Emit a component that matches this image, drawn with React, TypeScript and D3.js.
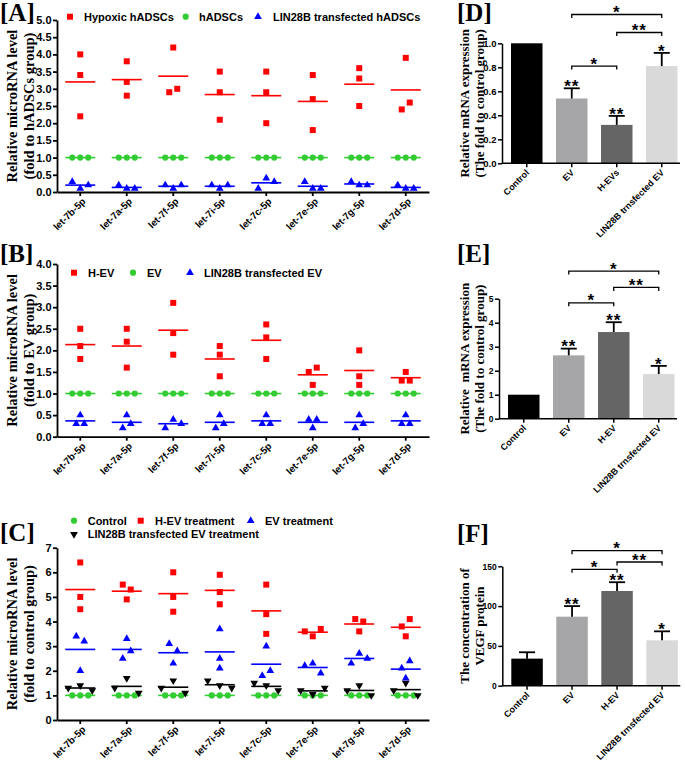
import React, { useRef, useEffect } from "react";
import * as d3 from "d3";

const mirnas = ["let-7b-5p", "let-7a-5p", "let-7f-5p", "let-7i-5p", "let-7c-5p", "let-7e-5p", "let-7g-5p", "let-7d-5p"];

// [A] three replicates per microRNA
const hypoxicA = [[4.0, 3.4, 2.2], [3.8, 3.2, 2.8], [4.2, 2.9, 3.0], [3.5, 2.9, 2.1], [3.5, 2.9, 2.0], [3.4, 2.7, 1.8], [3.6, 3.3, 2.5], [3.9, 2.4, 2.6]];
const hadscsA = [[1, 1, 1], [1, 1, 1], [1, 1, 1], [1, 1, 1], [1, 1, 1], [1, 1, 1], [1, 1, 1], [1, 1, 1]];
const lin28bA = [[0.3, 0.1, 0.2], [0.2, 0.1, 0.1], [0.2, 0.1, 0.2], [0.2, 0.1, 0.2], [0.1, 0.4, 0.3], [0.3, 0.1, 0.1], [0.3, 0.2, 0.2], [0.2, 0.1, 0.1]];

// [B]
const hevB = [[2.5, 2.1, 1.8], [2.5, 2.2, 1.6], [3.1, 2.4, 1.9], [2.1, 1.9, 1.4], [2.6, 2.3, 1.8], [1.5, 1.6, 1.2], [2.0, 1.4, 1.2], [1.5, 1.3, 1.3]];
const evB = [[1, 1, 1], [1, 1, 1], [1, 1, 1], [1, 1, 1], [1, 1, 1], [1, 1, 1], [1, 1, 1], [1, 1, 1]];
const lin28bB = [[0.5, 0.3, 0.3], [0.5, 0.2, 0.3], [0.2, 0.4, 0.3], [0.5, 0.2, 0.3], [0.5, 0.3, 0.3], [0.4, 0.4, 0.2], [0.5, 0.2, 0.3], [0.5, 0.3, 0.3]];

// [C]
const controlC = [[1, 1, 1], [1, 1, 1], [1, 1, 1], [1, 1, 1], [1, 1, 1], [1, 1, 1], [1, 1, 1], [1, 1, 1]];
const hevC = [[6.4, 5.0, 4.5], [5.5, 5.3, 4.9], [6.0, 5.0, 4.4], [5.9, 5.2, 4.7], [5.5, 4.3, 3.5], [3.6, 3.4, 3.7], [4.1, 3.6, 4.0], [3.8, 3.4, 4.1]];
const evC = [[3.4, 3.2, 2.0], [3.3, 2.5, 2.8], [3.1, 2.8, 2.3], [3.7, 2.5, 2.1], [3.0, 1.8, 2.0], [2.2, 2.3, 1.9], [2.3, 2.7, 2.5], [2.1, 2.4, 1.7]];
const lin28bC = [[1.3, 1.4, 1.2], [1.3, 1.7, 1.1], [1.3, 1.6, 1.1], [1.6, 1.4, 1.3], [1.5, 1.4, 1.2], [1.2, 1.05, 1.3], [1.2, 1.4, 1.0], [1.2, 1.5, 1.0]];

const ticksA = [0, 0.5, 1, 1.5, 2, 2.5, 3, 3.5, 4, 4.5, 5];
const ticksB = [0, 0.5, 1, 1.5, 2, 2.5, 3, 3.5, 4];
const ticksC = [0, 1, 2, 3, 4, 5, 6, 7];

// bar panels
const groupsD = ["Control", "EV", "H-EVs", "LIN28B trnsfected EV"];
const groupsEF = ["Control", "EV", "H-EV", "LIN28B trnsfected EV"];
const meanD = [1.0, 0.54, 0.32, 0.81];
const sdD = [0, 0.085, 0.075, 0.11];
const meanE = [1.0, 2.64, 3.61, 1.86];
const sdE = [0, 0.28, 0.41, 0.34];
const meanF = [34, 86.7, 119, 57];
const sdF = [8, 13.3, 11, 11.3];
const barStars = ["", "**", "**", "*"];
const compD = [{ a: 1, b: 3, level: 1.24, mark: "*" }, { a: 2, b: 3, level: 1.09, mark: "**" }, { a: 1, b: 2, level: 0.81, mark: "*" }];
const compE = [{ a: 1, b: 3, level: 6.15, mark: "*" }, { a: 2, b: 3, level: 5.47, mark: "**" }, { a: 1, b: 2, level: 4.83, mark: "*" }];
const compF = [{ a: 1, b: 3, level: 169.6, mark: "*" }, { a: 2, b: 3, level: 155.4, mark: "**" }, { a: 1, b: 2, level: 146.2, mark: "*" }];
const ticksD = [0, 0.2, 0.4, 0.6, 0.8, 1.0];
const ticksE = [0, 1, 2, 3, 4, 5];
const ticksF = [0, 50, 100, 150];

const RED = "#ff0000";
const GREEN = "#33cc33";
const BLUE = "#0000ff";
const BLACK = "#000000";
const barColors = ["#000000", "#a6a6a8", "#656565", "#d9d9d9"];

const SERIF = '"Liberation Serif", "Times New Roman", Times, serif';
const SANS = '"Liberation Sans", Arial, Helvetica, sans-serif';

function symbolPath(shape) {
  if (shape === "square") return d3.symbol().type(d3.symbolSquare).size(36)();
  if (shape === "circle") return d3.symbol().type(d3.symbolCircle).size(30)();
  return d3.symbol().type(d3.symbolTriangle).size(26)();
}

// spread overlapping replicates sideways, like a column scatter
function spread(py, s, pair) {
  const n = py.length;
  const parent = py.map((_, i) => i);
  const find = (i) => (parent[i] === i ? i : (parent[i] = find(parent[i])));
  for (let i = 0; i < n; i++)
    for (let j = i + 1; j < n; j++)
      if (Math.abs(py[i] - py[j]) < 7.5) parent[find(j)] = find(i);
  const off = new Array(n).fill(0);
  const groups = d3.group(d3.range(n), (i) => find(i));
  groups.forEach((mem) => {
    if (mem.length === 2) {
      off[mem[0]] = -pair;
      off[mem[1]] = pair;
    } else if (mem.length > 2) {
      mem.forEach((m, k) => (off[m] = (k - (mem.length - 1) / 2) * s));
    }
  });
  return off;
}

function styleAxis(a, size) {
  a.selectAll("path,line").attr("stroke", "#000").attr("stroke-width", 1.8);
  a.selectAll("text")
    .attr("font-family", SANS)
    .attr("font-weight", "bold")
    .attr("font-size", size)
    .attr("fill", "#000");
}

function drawScatter(root, c) {
  const g = root.append("g");
  const x = d3.scaleBand().domain(mirnas).range([57, 429]);
  const y = d3.scaleLinear().domain([0, c.max]).range([c.bottom, c.top]);

  const ya = g.append("g").attr("transform", "translate(57,0)")
    .call(d3.axisLeft(y).tickValues(c.ticks).tickFormat(d3.format(c.fmt)).tickSize(4).tickSizeOuter(0).tickPadding(1.5));
  styleAxis(ya, 11);
  const xa = g.append("g").attr("transform", `translate(0,${c.bottom})`)
    .call(d3.axisBottom(x).tickSize(4).tickSizeOuter(0).tickFormat(() => ""));
  styleAxis(xa, 10);

  mirnas.forEach((m) => {
    g.append("text")
      .attr("transform", `translate(${x(m) + x.bandwidth() / 2 + 6},${c.bottom + 10}) rotate(-45)`)
      .attr("text-anchor", "end")
      .attr("font-family", SANS)
      .attr("font-weight", "bold")
      .attr("font-size", 9.8)
      .text(m);
  });

  const ym = (c.top + c.bottom) / 2;
  c.ylab.forEach((t, i) => {
    g.append("text")
      .attr("transform", `translate(${[17, 34][i]},${ym}) rotate(-90)`)
      .attr("text-anchor", "middle")
      .attr("font-family", SERIF)
      .attr("font-weight", "bold")
      .attr("font-size", 14.5)
      .text(t);
  });

  g.append("text")
    .attr("x", 0)
    .attr("y", c.labelBase)
    .attr("font-family", SERIF)
    .attr("font-weight", "bold")
    .attr("font-size", 25)
    .text(c.label);

  c.series.forEach((s) => {
    s.data.forEach((vals, i) => {
      const cx = x(mirnas[i]) + x.bandwidth() / 2;
      const py = vals.map((v) => y(v));
      const off = spread(py, s.s, s.pair);
      vals.forEach((v, k) => {
        g.append("path")
          .attr("d", symbolPath(s.shape))
          .attr("transform", `translate(${cx + off[k]},${py[k]})${s.shape === "down" ? " rotate(180)" : ""}`)
          .attr("fill", s.color);
      });
      const m = d3.mean(vals);
      g.append("line")
        .attr("x1", cx - 15).attr("x2", cx + 15)
        .attr("y1", y(m)).attr("y2", y(m))
        .attr("stroke", s.color)
        .attr("stroke-width", 1.6);
    });
  });

  c.legend.forEach((l) => {
    g.append("path")
      .attr("d", symbolPath(l.shape))
      .attr("transform", `translate(${l.mx},${l.y})${l.shape === "down" ? " rotate(180)" : ""}`)
      .attr("fill", l.color);
    g.append("text")
      .attr("x", l.tx)
      .attr("y", l.y)
      .attr("dy", "0.36em")
      .attr("font-family", SANS)
      .attr("font-weight", "bold")
      .attr("font-size", 11)
      .text(l.text);
  });
}

function drawBars(root, c) {
  const g = root.append("g");
  const step = 45;
  const x = d3.scaleBand().domain(c.groups).range([c.x0, c.x0 + step * 4.1]).paddingInner(0.3).paddingOuter(0.2);
  const y = d3.scaleLinear().domain([0, c.max]).range([c.bottom, c.top]);
  const cx = (i) => x(c.groups[i]) + x.bandwidth() / 2;

  g.selectAll("rect")
    .data(c.groups)
    .join("rect")
    .attr("x", (d) => x(d))
    .attr("y", (d, i) => y(c.mean[i]))
    .attr("width", x.bandwidth())
    .attr("height", (d, i) => c.bottom - y(c.mean[i]))
    .attr("fill", (d, i) => barColors[i]);

  c.groups.forEach((d, i) => {
    const top = y(c.mean[i] + c.sd[i]);
    if (c.sd[i] > 0) {
      g.append("line").attr("x1", cx(i)).attr("x2", cx(i)).attr("y1", y(c.mean[i])).attr("y2", top)
        .attr("stroke", "#000").attr("stroke-width", 1.8);
      g.append("line").attr("x1", cx(i) - 8).attr("x2", cx(i) + 8).attr("y1", top).attr("y2", top)
        .attr("stroke", "#000").attr("stroke-width", 1.8);
    }
    if (c.stars[i]) {
      g.append("text")
        .attr("x", cx(i)).attr("y", top - 6 + 9.7)
        .attr("text-anchor", "middle")
        .attr("font-family", SANS).attr("font-weight", "bold").attr("font-size", 17)
        .attr("letter-spacing", 1)
        .text(c.stars[i]);
    }
  });

  c.comps.forEach((p) => {
    const yb = y(p.level);
    const x1 = cx(p.a);
    const x2 = cx(p.b);
    g.append("path")
      .attr("d", `M${x1},${yb + 3.5}V${yb}H${x2}V${yb + 3.5}`)
      .attr("fill", "none").attr("stroke", "#000").attr("stroke-width", 1.3);
    g.append("text")
      .attr("x", (x1 + x2) / 2).attr("y", yb - 6 + 9.7)
      .attr("text-anchor", "middle")
      .attr("font-family", SANS).attr("font-weight", "bold").attr("font-size", 17)
      .attr("letter-spacing", 1)
      .text(p.mark);
  });

  const ya = g.append("g").attr("transform", `translate(${c.x0},0)`)
    .call(d3.axisLeft(y).tickValues(c.ticks).tickFormat(d3.format(c.fmt)).tickSize(4).tickSizeOuter(0).tickPadding(1.5));
  styleAxis(ya, c.tickFont);
  ya.selectAll("path,line").attr("stroke-width", 1.5);

  g.append("line").attr("x1", c.x0).attr("x2", c.x0 + 178).attr("y1", c.bottom).attr("y2", c.bottom)
    .attr("stroke", "#000").attr("stroke-width", 1.5);
  c.groups.forEach((d, i) => {
    g.append("line").attr("x1", cx(i)).attr("x2", cx(i)).attr("y1", c.bottom).attr("y2", c.bottom + 4)
      .attr("stroke", "#000").attr("stroke-width", 1.5);
    g.append("text")
      .attr("transform", `translate(${cx(i) + 3},${c.bottom + 10}) rotate(-45)`)
      .attr("text-anchor", "end")
      .attr("font-family", SANS).attr("font-weight", "bold").attr("font-size", 9)
      .text(d);
  });

  const ym = (c.top + c.bottom) / 2;
  c.ylab.forEach((t, i) => {
    g.append("text")
      .attr("transform", `translate(${[469, 484][i]},${ym}) rotate(-90)`)
      .attr("text-anchor", "middle")
      .attr("font-family", SERIF).attr("font-weight", "bold").attr("font-size", 13)
      .style("white-space", "pre")
      .text(t);
  });

  g.append("text")
    .attr("x", 457).attr("y", c.labelBase)
    .attr("font-family", SERIF).attr("font-weight", "bold").attr("font-size", 25)
    .text(c.label);
}

const App = () => {
  const ref = useRef(null);

  useEffect(() => {
    const svg = d3.select(ref.current);
    svg.selectAll("*").remove();
    svg.append("rect").attr("width", 685).attr("height", 761).attr("fill", "#fff");

    drawScatter(svg, {
      label: "[A]", labelBase: 21, top: 20, bottom: 192, max: 5, ticks: ticksA, fmt: ".1f",
      ylab: ["Relative microRNA level", "(fold to hADSCs group)"],
      series: [
        { data: hypoxicA, color: RED, shape: "square", s: 8, pair: 4 },
        { data: hadscsA, color: GREEN, shape: "circle", s: 8, pair: 4 },
        { data: lin28bA, color: BLUE, shape: "tri", s: 8, pair: 4 },
      ],
      legend: [
        { shape: "square", color: RED, text: "Hypoxic hADSCs", mx: 70, tx: 84, y: 16.7 },
        { shape: "circle", color: GREEN, text: "hADSCs", mx: 185.7, tx: 199, y: 16.7 },
        { shape: "tri", color: BLUE, text: "LIN28B transfected hADSCs", mx: 258, tx: 273, y: 16.7 },
      ],
    });

    drawScatter(svg, {
      label: "[B]", labelBase: 262, top: 264, bottom: 436.7, max: 4, ticks: ticksB, fmt: ".1f",
      ylab: ["Relative microRNA level", "(fold to EV group)"],
      series: [
        { data: hevB, color: RED, shape: "square", s: 8, pair: 4 },
        { data: evB, color: GREEN, shape: "circle", s: 8, pair: 4 },
        { data: lin28bB, color: BLUE, shape: "tri", s: 8, pair: 4 },
      ],
      legend: [
        { shape: "square", color: RED, text: "H-EV", mx: 74, tx: 88, y: 272.7 },
        { shape: "circle", color: GREEN, text: "EV", mx: 133, tx: 147, y: 272.7 },
        { shape: "tri", color: BLUE, text: "LIN28B transfected EV", mx: 190, tx: 204, y: 272.7 },
      ],
    });

    drawScatter(svg, {
      label: "[C]", labelBase: 541, top: 547.7, bottom: 720, max: 7, ticks: ticksC, fmt: "d",
      ylab: ["Relative microRNA level", "(fold to control group)"],
      series: [
        { data: controlC, color: GREEN, shape: "circle", s: 8, pair: 4 },
        { data: lin28bC, color: BLACK, shape: "down", s: 12, pair: 12 },
        { data: evC, color: BLUE, shape: "tri", s: 8, pair: 4 },
        { data: hevC, color: RED, shape: "square", s: 8, pair: 4 },
      ],
      legend: [
        { shape: "circle", color: GREEN, text: "Control", mx: 74, tx: 87.7, y: 520.7 },
        { shape: "square", color: RED, text: "H-EV treatment", mx: 140.7, tx: 155, y: 520.7 },
        { shape: "tri", color: BLUE, text: "EV treatment", mx: 250.7, tx: 265, y: 520.7 },
        { shape: "down", color: BLACK, text: "LIN28B transfected EV treatment", mx: 74, tx: 87.7, y: 534.3 },
      ],
    });

    drawBars(svg, {
      label: "[D]", labelBase: 21, x0: 502, top: 43.3, bottom: 163.3, max: 1, ticks: ticksD, fmt: ".1f", tickFont: 9.5,
      groups: groupsD, mean: meanD, sd: sdD, stars: barStars, comps: compD,
      ylab: ["Relative mRNA expression", "(The fold to control group)"],
    });

    drawBars(svg, {
      label: "[E]", labelBase: 262, x0: 499, top: 298.7, bottom: 418.7, max: 5, ticks: ticksE, fmt: "d", tickFont: 8.5,
      groups: groupsEF, mean: meanE, sd: sdE, stars: barStars, comps: compE,
      ylab: ["Relative  mRNA expression", "(The fold to control group)"],
    });

    drawBars(svg, {
      label: "[F]", labelBase: 542, x0: 502.3, top: 566.3, bottom: 685.7, max: 150, ticks: ticksF, fmt: "d", tickFont: 8.5,
      groups: groupsEF, mean: meanF, sd: sdF, stars: barStars, comps: compF,
      ylab: ["The concentration of", "VEGF protein"],
    });
  }, []);

  return (
    <svg
      ref={ref}
      width={685}
      height={761}
      viewBox="0 0 685 761"
      style={{ position: "absolute", left: 0, top: 0, display: "block" }}
    />
  );
};

export default App;
